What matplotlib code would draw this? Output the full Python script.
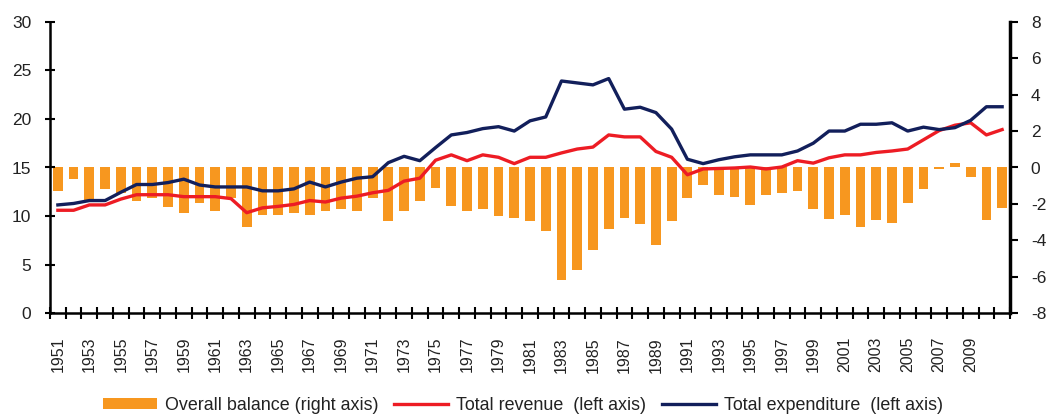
import matplotlib
matplotlib.use("Agg")
import matplotlib.pyplot as plt
import numpy as np
from matplotlib.ticker import FixedLocator, NullFormatter

plt.rcParams['font.family'] = ['Liberation Sans', 'DejaVu Sans']
plt.rcParams['axes.unicode_minus'] = False

years = list(range(1951, 2012))

overall_balance = [
    -1.3, -0.63, -1.8, -1.2, -1.4, -1.85, -1.7, -2.15, -2.5, -1.95,
    -2.4, -1.7, -3.25, -2.6, -2.6, -2.5, -2.6, -2.4, -2.3, -2.4,
    -1.65, -2.95, -2.4, -1.85, -1.1, -2.1, -2.4, -2.3, -2.65, -2.75,
    -2.95, -3.5, -6.15, -5.6, -4.5, -3.4, -2.75, -3.1, -4.25, -2.95,
    -1.65, -0.95, -1.5, -1.64, -2.05, -1.5, -1.4, -1.27, -2.25, -2.8,
    -2.6, -3.24, -2.9, -3.04, -1.93, -1.18, -0.09, 0.22, -0.5, -2.9,
    -2.24,
]

total_revenue = [
    10.6, 10.6, 11.15, 11.15, 11.75, 12.2, 12.2, 12.2, 12.0, 12.0,
    12.0, 11.8, 10.35, 10.85, 11.0, 11.2, 11.6, 11.45, 11.85, 12.05,
    12.4, 12.65, 13.6, 13.9, 15.75, 16.3, 15.7, 16.3, 16.05, 15.4,
    16.05, 16.05, 16.5, 16.9, 17.1, 18.35, 18.15, 18.15, 16.65, 16.05,
    14.25, 14.85, 14.9, 14.95, 15.05, 14.85, 15.05, 15.7, 15.45, 16.0,
    16.3, 16.3, 16.55, 16.7, 16.9, 17.85, 18.8, 19.35, 19.6, 18.35,
    18.9,
]

total_expenditure = [
    11.15, 11.3, 11.6, 11.6, 12.45, 13.25, 13.25, 13.45, 13.8, 13.2,
    13.0, 13.0, 13.0, 12.6, 12.6, 12.8, 13.5, 13.0, 13.5, 13.9,
    14.05, 15.5, 16.15, 15.7, 17.05, 18.35, 18.6, 19.0, 19.2, 18.75,
    19.8, 20.2, 23.9, 23.7, 23.5, 24.15, 21.0, 21.2, 20.65, 18.95,
    15.85, 15.4, 15.8, 16.1, 16.3, 16.3, 16.3, 16.7, 17.5, 18.75,
    18.75, 19.45, 19.45, 19.6, 18.75, 19.15, 18.9, 19.1, 19.85, 21.25,
    21.25,
]

tick_years = list(range(1951, 2010, 2))

labels = ["Overall balance (right axis)", "Total revenue  (left axis)",
          "Total expenditure  (left axis)"]

ORANGE = "#F7971F"
RED = "#ED1C24"
NAVY = "#121F5B"

W, H = 1047, 415
fig = plt.figure(figsize=(W / 100, H / 100), dpi=100)
ax = fig.add_axes([50 / W, (H - 313.3) / H, (1010 - 50) / W, (313.3 - 21.7) / H])
ax2 = ax.twinx()

x = np.arange(len(years))

bars = ax2.bar(x, overall_balance, width=0.62, color=ORANGE, label=labels[0], zorder=2)
l1, = ax.plot(x, total_revenue, color=RED, lw=2.4, label=labels[1], solid_joinstyle='round')
l2, = ax.plot(x, total_expenditure, color=NAVY, lw=2.4, label=labels[2], solid_joinstyle='round')

ax.set_zorder(ax2.get_zorder() + 1)
ax.patch.set_visible(False)

ax.set_xlim(-0.5, len(years) - 0.5)
ax.set_ylim(0, 30)
ax.set_yticks(np.arange(0, 31, 5))
ax2.set_ylim(-8, 8)
ax2.set_yticks(np.arange(-8, 9, 2))

# x ticks: labels on odd years at centres, tick marks at category boundaries
ax.set_xticks([years.index(y) for y in tick_years])
ax.set_xticklabels([str(y) for y in tick_years], rotation=90, fontsize=11.5, color="#222222")
ax.xaxis.set_minor_locator(FixedLocator(np.arange(-0.5, len(years) + 0.5, 1.0)))
ax.xaxis.set_minor_formatter(NullFormatter())
ax.tick_params(axis='x', which='major', length=0, pad=17)
ax.tick_params(axis='x', which='minor', direction='inout', length=8, width=1.5)
ax.tick_params(axis='y', direction='inout', length=7, width=1.5, labelsize=12.5,
               labelcolor="#222222", pad=10)
ax2.tick_params(axis='y', direction='out', length=6, width=1.5, labelsize=12.5,
                labelcolor="#222222", pad=9)
ax2.tick_params(axis='x', which='both', length=0)

for a in (ax, ax2):
    a.spines['top'].set_visible(False)
ax.spines['left'].set_linewidth(1.8)
ax.spines['bottom'].set_linewidth(1.8)
ax.spines['right'].set_visible(False)
ax2.spines['left'].set_visible(False)
ax2.spines['bottom'].set_visible(False)
ax2.spines['right'].set_linewidth(2.5)

fig.legend([bars, l1, l2], labels, loc='center', bbox_to_anchor=(523 / W, (H - 405) / H),
           ncol=3, frameon=False, fontsize=12.9, handlelength=3.0, handleheight=0.55,
           handletextpad=0.45, columnspacing=0.9, borderpad=0, labelcolor="#222222")

fig.savefig("out.png", dpi=100)
